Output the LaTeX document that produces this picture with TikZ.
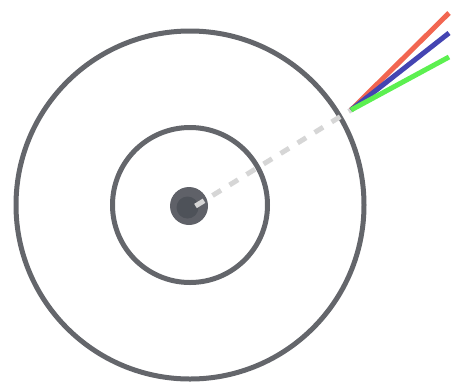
\documentclass[tikz,border=0pt]{standalone}
\definecolor{discgray}{HTML}{64666B}
\definecolor{hubgray}{HTML}{5F6168}
\definecolor{hubdark}{HTML}{4E5259}
\definecolor{rayred}{HTML}{F26651}
\definecolor{rayblue}{HTML}{4444B2}
\definecolor{raygreen}{HTML}{5CF050}
\definecolor{dashgray}{HTML}{D6D6D6}
\begin{document}
\begin{tikzpicture}[x=1pt,y=-1pt]
		\useasboundingbox (0,0) rectangle (452,384);

		% Cercles
		\coordinate (C) at (190,205);
		\draw[discgray, line width=5pt] (C) circle (174);
		\draw[discgray, line width=5pt] (C) circle (77.5);

		% Centre
		\fill[hubgray] (189,206) circle (19);
		\fill[hubdark] (187.5,207.5) circle (11);

		% Raig
		\coordinate (S) at (195.5,206);
		\coordinate (P) at (351,110);
		\draw[dashgray, line width=5pt, dash pattern=on 10pt off 10pt] (S) -- (P);

		% Feix de colors
		\coordinate (R) at (449,13);
		\coordinate (B) at (449,33);
		\coordinate (G) at (449,57);
		\draw[rayred, line width=5pt] (P) -- (R);
		\draw[rayblue, line width=5pt] (P) -- (B);
		\draw[raygreen, line width=5pt] (P) -- (G);
	\end{tikzpicture}
\end{document}
